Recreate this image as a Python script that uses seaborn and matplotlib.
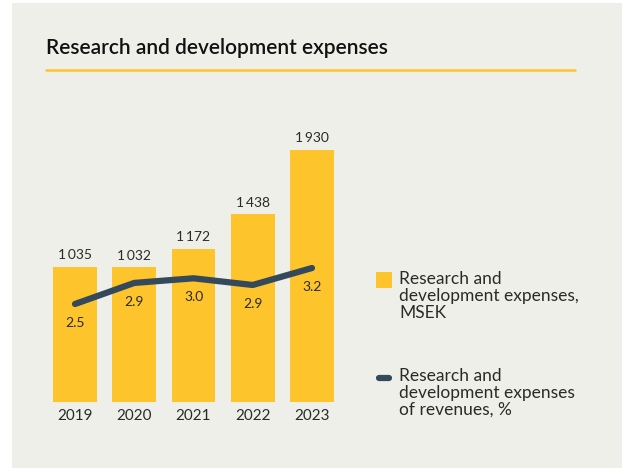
import numpy as np
import matplotlib
matplotlib.use('Agg')
import matplotlib.pyplot as plt
import seaborn as sns
from matplotlib.patches import Rectangle
from matplotlib.lines import Line2D

# data
years = ['2019', '2020', '2021', '2022', '2023']
rd_msek = [1035, 1032, 1172, 1438, 1930]
rd_pct = [2.5, 2.91, 3.0, 2.87, 3.2]

title = 'Research and development expenses'
legend_bar = 'Research and\ndevelopment expenses,\nMSEK'
legend_line = 'Research and\ndevelopment expenses\nof revenues, %'

YELLOW = '#FEC42B'
NAVY = '#34495B'
TEXT = '#2a2a2a'
BG = '#EFEFEA'

sns.set_style('white')
plt.rcParams['font.family'] = ['Lato', 'DejaVu Sans']

W, H = 622, 468
fig = plt.figure(figsize=(W / 100, H / 100), dpi=100)
fig.patch.set_facecolor('white')

# grey panel behind everything
fig.add_artist(Rectangle((12 / W, 0), 1, 465 / H, transform=fig.transFigure,
                         facecolor=BG, edgecolor='none', zorder=-10))

# axes placed so bars line up with the reference
left, right = 45.4, 341.6
bottom_px, top_px = 402, 130
ax = fig.add_axes([left / W, 1 - bottom_px / H, (right - left) / W, (bottom_px - top_px) / H])
ax.set_facecolor('none')

sns.barplot(x=years, y=rd_msek, ax=ax, color=YELLOW, saturation=1, width=0.74, linewidth=0)
ax.set_xlim(-0.5, len(years) - 0.5)
ax.set_ylim(0, (bottom_px - top_px) / 0.1306)
labels = [f"{v:,}".replace(',', '\u2009') for v in rd_msek]
ax.bar_label(ax.containers[0], labels=labels, padding=4, fontsize=10, color=TEXT)

ax2 = ax.twinx()
ax2.set_facecolor('none')
sns.lineplot(x=np.arange(len(years)), y=rd_pct, ax=ax2, color=NAVY, linewidth=4.5)
px_per_unit = 51.4
ax2.set_ylim(2.5 - (bottom_px - 304) / px_per_unit, 2.5 + (304 - top_px) / px_per_unit)
for i, v in enumerate(rd_pct):
    ax2.annotate(f"{v:.1f}", (i, v), xytext=(0, -13.5), textcoords='offset points',
                 ha='center', va='center', fontsize=10, color=TEXT)

for a in (ax, ax2):
    for s in a.spines.values():
        s.set_visible(False)
    a.set_ylabel('')
    a.set_xlabel('')
ax.set_yticks([])
ax2.set_yticks([])
ax.tick_params(axis='x', length=0, pad=5, labelsize=11, labelcolor=TEXT)

# title with yellow rule
fig.text(46 / W, 1 - 48 / H, title, fontsize=15, fontweight='semibold', color='#111111',
         ha='left', va='center')
fig.add_artist(Line2D([46 / W, 575 / W], [1 - 70 / H] * 2, transform=fig.transFigure,
                      color=YELLOW, linewidth=1.8))

# legend drawn by hand in figure pixels
fig.add_artist(Rectangle((376 / W, 1 - 288 / H), 16 / W, 16 / H, transform=fig.transFigure,
                         facecolor=YELLOW, edgecolor='none'))
fig.add_artist(Line2D([379 / W, 389 / W], [1 - 378 / H] * 2, transform=fig.transFigure,
                      color=NAVY, linewidth=4.5, solid_capstyle='round'))
fig.text(399 / W, 1 - 271 / H, legend_bar, fontsize=12.5, color=TEXT, ha='left', va='top',
         linespacing=1.06)
fig.text(399 / W, 1 - 368 / H, legend_line, fontsize=12.5, color=TEXT, ha='left', va='top',
         linespacing=1.06)

fig.savefig('out.png', dpi=100)
